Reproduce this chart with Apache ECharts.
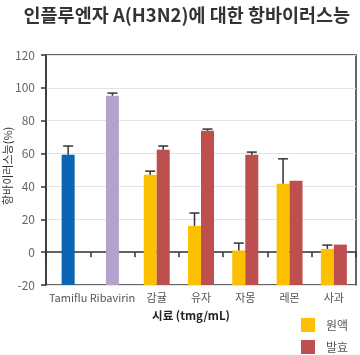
<!DOCTYPE html>
<html><head><meta charset="utf-8">
<script src="https://cdn.jsdelivr.net/npm/echarts@6/dist/echarts.min.js"></script>
<style>html,body{margin:0;padding:0;background:#fff}#c{width:360px;height:355px}</style>
</head><body><div id="c"></div>
<script>
var categories = ['Tamiflu', 'Ribavirin', '감귤', '유자', '자몽', '레몬', '사과'];
var singleValues = [59.3, 95.2, null, null, null, null, null];
var singleErrors = [64.6, 96.8, null, null, null, null, null];
var rawValues = [null, null, 47.1, 16.0, 1.0, 41.6, 2.0];
var rawErrors = [null, null, 49.3, 23.8, 5.5, 56.8, 4.3];
var fermValues = [null, null, 62.3, 73.9, 59.3, 43.4, 4.6];
var fermErrors = [null, null, 64.6, 74.9, 60.9, null, null];
var yTicks = [-20, 0, 20, 40, 60, 80, 100, 120];
var singleColors = ['#0a64b4', '#b4a1cc'];
var FONT = '"Noto Sans CJK KR", "Noto Sans", sans-serif';

function errData(vals, errs) {
  var out = [];
  for (var i = 0; i < vals.length; i++) {
    if (vals[i] != null && errs[i] != null) out.push([i, vals[i], errs[i]]);
  }
  return out;
}
function errSeries(data, offset, axisIndex) {
  return {
    type: 'custom', xAxisIndex: axisIndex, z: 5, silent: true,
    data: data,
    renderItem: function (params, api) {
      var p0 = api.coord([api.value(0), api.value(1)]);
      var p1 = api.coord([api.value(0), api.value(2)]);
      var x = p0[0] + offset;
      var st = { stroke: '#333', lineWidth: 1.5 };
      return { type: 'group', children: [
        { type: 'line', shape: { x1: x, y1: p0[1], x2: x, y2: p1[1] }, style: st },
        { type: 'line', shape: { x1: x - 5, y1: p1[1], x2: x + 5, y2: p1[1] }, style: st }
      ]};
    }
  };
}
function legendItem(name, top) {
  return {
    orient: 'vertical', left: 301, top: top, itemWidth: 14, itemHeight: 14, padding: 0,
    icon: 'rect', data: [name],
    textStyle: { fontFamily: FONT, fontSize: 12, color: '#555', padding: [0, 0, 0, 6] }
  };
}

var chart = echarts.init(document.getElementById('c'), null, { renderer: 'canvas' });
chart.setOption({
  animation: false,
  textStyle: { fontFamily: FONT },
  title: {
    text: '인플루엔자 A(H3N2)에 대한 항바이러스능',
    right: 5, top: 1,
    textStyle: { fontFamily: FONT, fontSize: 18.5, fontWeight: 'bold', color: '#333' }
  },
  legend: [legendItem('원액', 318), legendItem('발효', 340)],
  grid: { left: 46, right: 4, top: 55, bottom: 70, show: true, borderColor: '#333', borderWidth: 1.5 },
  xAxis: [{
    type: 'category', data: categories,
    axisLine: { lineStyle: { color: '#333', width: 1.5 } },
    axisTick: { show: true, length: 5, lineStyle: { color: '#333', width: 1.5 } },
    axisLabel: { color: '#555', fontSize: 11, margin: 7, interval: 0, fontFamily: FONT }
  }, {
    type: 'category', data: categories, show: false, position: 'bottom'
  }],
  yAxis: {
    type: 'value', min: -20, max: 120, interval: 20, startValue: -20,
    axisLine: { show: true, lineStyle: { color: '#333', width: 1.5 } },
    axisTick: { show: true, length: 5, lineStyle: { color: '#333', width: 1.5 } },
    axisLabel: { color: '#666', fontSize: 12, margin: 11, fontFamily: FONT,
      formatter: function (v) { return yTicks.indexOf(v) >= 0 ? String(v) : ''; } },
    splitLine: { lineStyle: { color: '#e3e3e3', width: 1 } }
  },
  graphic: [
    { type: 'text', x: 191, y: 310, style: { text: '시료 (tmg/mL)', fontFamily: FONT, fontSize: 11.5, fontWeight: 'bold', fill: '#222', align: 'center' } },
    { type: 'text', x: 2, y: 205, rotation: Math.PI / 2, style: { text: '항바이러스능(%)', fontFamily: FONT, fontSize: 11, fill: '#333' } }
  ],
  series: [
    { name: '원액', type: 'bar', xAxisIndex: 0, barWidth: 13, barGap: '0%', data: rawValues, itemStyle: { color: '#fbc100' } },
    { name: '발효', type: 'bar', xAxisIndex: 0, barWidth: 13, barGap: '0%', data: fermValues, itemStyle: { color: '#bd504f' } },
    { name: 'single', type: 'bar', xAxisIndex: 1, barWidth: 13,
      data: singleValues.map(function (v, i) { return v == null ? null : { value: v, itemStyle: { color: singleColors[i] } }; }) },
    errSeries(errData(rawValues, rawErrors), -6.5, 0),
    errSeries(errData(fermValues, fermErrors), 6.5, 0),
    errSeries(errData(singleValues, singleErrors), 0, 1)
  ]
});
</script>
</body></html>
